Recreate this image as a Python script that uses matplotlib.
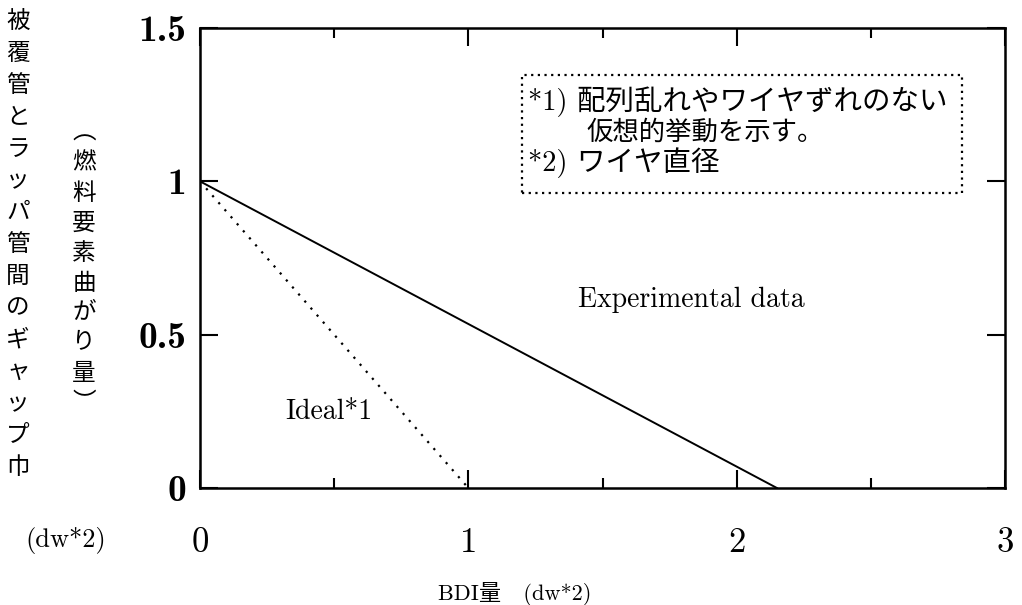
import matplotlib
matplotlib.use("Agg")
import matplotlib.pyplot as plt
from matplotlib.patches import Rectangle

# data
exp_x = [0.0, 2.15]
exp_y = [1.0, 0.0]
ideal_x = [0.0, 1.0]
ideal_y = [1.0, 0.0]

x_major = [0, 1, 2, 3]
x_minor = [0.5, 1.5, 2.5]
y_major = [0, 0.5, 1, 1.5]
x_ticklabels = ["0", "1", "2", "3"]
y_ticklabels = ["0", "0.5", "1", "1.5"]

ylabel_main = "被覆管とラッパ管間のギャップ巾"
ylabel_sub = "︵燃料要素曲がり量︶"
note_lines = ["*1) 配列乱れやワイヤずれのない", "仮想的挙動を示す。", "*2) ワイヤ直径"]

SERIF = ["cmr10", "Noto Sans CJK JP"]
BOLD = ["cmb10", "Noto Sans CJK JP"]
CJK = ["Noto Sans CJK JP", "DejaVu Serif"]

fig = plt.figure(figsize=(10.22, 6.05), dpi=100)
ax = fig.add_axes([200 / 1022, 1 - 488 / 605, 805 / 1022, 460 / 605])

ax.plot(exp_x, exp_y, color="black", linewidth=1.4)
ax.plot(ideal_x, ideal_y, color="black", linewidth=1.6, linestyle=(0, (1, 3.2)))

ax.set_xlim(0, 3)
ax.set_ylim(0, 1.5)
ax.set_xticks(x_major)
ax.set_xticks(x_minor, minor=True)
ax.set_yticks(y_major)
ax.set_xticklabels(x_ticklabels, family=SERIF, fontsize=25)
ax.set_yticklabels(y_ticklabels, family=BOLD, fontsize=27)
ax.tick_params(which="both", direction="in", top=True, right=True, width=1.5)
ax.tick_params(which="major", length=13)
ax.tick_params(which="minor", length=7)
ax.tick_params(axis="x", which="major", pad=28)
ax.tick_params(axis="y", which="major", pad=10)
for s in ax.spines.values():
    s.set_linewidth(1.8)

# annotations
ax.text(1.41, 0.613, "Experimental data", family=SERIF, fontsize=20, va="center")
ax.text(0.317, 0.248, "Ideal*1", family=SERIF, fontsize=20, va="center")

# note box
ax.add_patch(Rectangle((1.20, 0.962), 1.64, 0.385, fill=False,
                       linestyle=(0, (1, 2)), linewidth=1.6, edgecolor="black"))
ax.text(1.222, 1.259, note_lines[0], family=SERIF, fontsize=20.5, va="center")
ax.text(1.442, 1.158, note_lines[1], family=SERIF, fontsize=19, va="center")
ax.text(1.222, 1.060, note_lines[2], family=SERIF, fontsize=20.5, va="center")

# vertical y labels (stacked characters)
for i, ch in enumerate(ylabel_main):
    fig.text(18 / 1022, 1 - (22 + i * 31.8) / 605, ch, family=CJK,
             fontsize=17, ha="center", va="center")
for i, ch in enumerate(ylabel_sub):
    fig.text(84 / 1022, 1 - (133 + i * 30) / 605, ch, family=CJK,
             fontsize=17, ha="center", va="center")
fig.text(66 / 1022, 1 - 540 / 605, "(dw*2)", family=SERIF, fontsize=19,
         ha="center", va="center")

# x label
fig.text(515 / 1022, 1 - 594 / 605, "BDI量　(dw*2)", family=SERIF, fontsize=16,
         ha="center", va="center")

fig.savefig("out.png", dpi=100)
